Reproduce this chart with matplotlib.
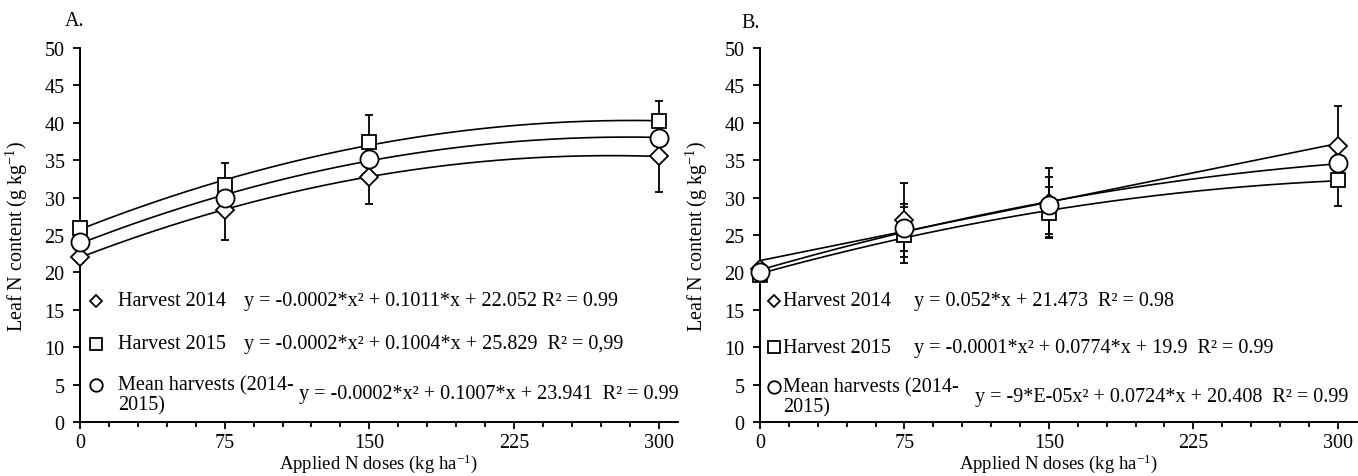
import numpy as np
import matplotlib
matplotlib.use("Agg")
import matplotlib.pyplot as plt
from matplotlib.ticker import MultipleLocator

plt.rcParams["font.family"] = "Liberation Serif"
plt.rcParams["mathtext.fontset"] = "custom"
plt.rcParams["mathtext.rm"] = "Liberation Serif"
plt.rcParams["mathtext.it"] = "Liberation Serif:italic"

# N doses (kg ha-1)
doses = [0, 75, 150, 300]

# Panel A - leaf N content (g kg-1)
a_2014 = [22.0, 28.4, 32.8, 35.5]
a_2014_err = [0.8, 4.1, 3.6, 4.7]
a_2015 = [26.0, 31.7, 37.5, 40.2]
a_2015_err = [0.8, 2.9, 3.5, 2.7]
a_mean = [24.0, 30.0, 35.2, 38.0]
a_mean_err = [0.6, 2.3, 2.4, 2.5]

# Panel B
b_2014 = [20.5, 27.0, 29.3, 36.9]
b_2014_err = [0.8, 4.9, 4.6, 5.3]
b_2015 = [19.7, 25.0, 28.0, 32.3]
b_2015_err = [1.0, 3.7, 3.4, 3.4]
b_mean = [20.1, 26.0, 29.0, 34.6]
b_mean_err = [0.6, 3.1, 3.8, 2.0]

series_labels = ["Harvest 2014", "Harvest 2015", "Mean harvests (2014-"]
eqs_a = [
    "y = -0.0002*x\u00b2 + 0.1011*x + 22.052 R\u00b2 = 0.99",
    "y = -0.0002*x\u00b2 + 0.1004*x + 25.829  R\u00b2 = 0,99",
    "y = -0.0002*x\u00b2 + 0.1007*x + 23.941  R\u00b2 = 0.99",
]
eqs_b = [
    "y = 0.052*x + 21.473  R\u00b2 = 0.98",
    "y = -0.0001*x\u00b2 + 0.0774*x + 19.9  R\u00b2 = 0.99",
    "y = -9*E-05x\u00b2 + 0.0724*x + 20.408  R\u00b2 = 0.99",
]

FS = 14.5
markers = ["D", "s", "o"]
msizes = [9, 10.5, 13]
leg_msizes = [6.5, 9, 9]


def draw_panel(ax, data, errs, degrees, eqs, eq_x, mean_eq_x, text_x, marker_x, rows_y):
    xfit = np.linspace(0, 300, 200)
    for vals, deg in zip(data, degrees):
        coef = np.polyfit(doses, vals, deg)
        ax.plot(xfit, np.polyval(coef, xfit), color="black", lw=1.2, zorder=2)
    for vals, err in zip(data, errs):
        ax.errorbar(doses, vals, yerr=err, fmt="none", ecolor="black",
                    elinewidth=1.3, capsize=3, capthick=1.3, zorder=3)
    for vals, m, ms in zip(data, markers, msizes):
        ax.plot(doses, vals, linestyle="none", marker=m, ms=ms, mfc="white",
                mec="black", mew=1.3, zorder=4, clip_on=False)

    # legend with equations
    for i in range(3):
        ax.plot([marker_x], [rows_y[i]], transform=ax.transAxes, marker=markers[i],
                ms=leg_msizes[i], mfc="white", mec="black", mew=1.3, clip_on=False)
        ax.text(text_x, rows_y[i], series_labels[i], transform=ax.transAxes,
                ha="left", va="center", fontsize=FS)
    ax.text(text_x, rows_y[3], "2015)", transform=ax.transAxes,
            ha="left", va="center", fontsize=FS)
    ax.text(eq_x, rows_y[0], eqs[0], transform=ax.transAxes, ha="left", va="center", fontsize=FS)
    ax.text(eq_x, rows_y[1], eqs[1], transform=ax.transAxes, ha="left", va="center", fontsize=FS)
    ax.text(mean_eq_x, rows_y[4], eqs[2], transform=ax.transAxes, ha="left", va="center", fontsize=FS)

    ax.set_xlim(0, 310)
    ax.set_ylim(0, 50)
    ax.xaxis.set_major_locator(MultipleLocator(75))
    ax.xaxis.set_minor_locator(MultipleLocator(15))
    ax.yaxis.set_major_locator(MultipleLocator(5))
    for side in ["top", "right"]:
        ax.spines[side].set_visible(False)
    for side in ["left", "bottom"]:
        ax.spines[side].set_linewidth(1.4)
    ax.tick_params(axis="both", which="major", direction="out", length=5, width=1.3,
                   labelsize=FS, pad=6)
    ax.tick_params(axis="x", which="major", pad=3)
    ax.tick_params(axis="x", which="minor", direction="out", length=3.5, width=1.3)
    ax.set_xlabel("Applied N doses (kg ha$^{-1}$)", fontsize=13.5, va="center")
    ax.xaxis.set_label_coords(0.5, -0.11)
    ax.set_ylabel("Leaf N content (g kg$^{-1}$)", fontsize=FS)
    ax.yaxis.set_label_coords(-0.084, 0.5)


fig = plt.figure(figsize=(13.58, 4.77), dpi=100)
axA = fig.add_axes([80 / 1358, 1 - 423 / 477, 598 / 1358, 374 / 477])
axB = fig.add_axes([760 / 1358, 1 - 423 / 477, 597 / 1358, 374 / 477])

draw_panel(axA, [a_2014, a_2015, a_mean], [a_2014_err, a_2015_err, a_mean_err],
           [2, 2, 2], eqs_a, 0.274, 0.366, 0.063, 0.026,
           [0.324, 0.209, 0.1, 0.045, 0.076])
draw_panel(axB, [b_2014, b_2015, b_mean], [b_2014_err, b_2015_err, b_mean_err],
           [1, 2, 2], eqs_b, 0.258, 0.36, 0.039, 0.024,
           [0.324, 0.2, 0.094, 0.04, 0.068])

fig.text(65 / 1358, 1 - 22 / 477, "A.", fontsize=FS, ha="left", va="center")
fig.text(741 / 1358, 1 - 23 / 477, "B.", fontsize=FS, ha="left", va="center")

fig.savefig("out.png", dpi=100)
